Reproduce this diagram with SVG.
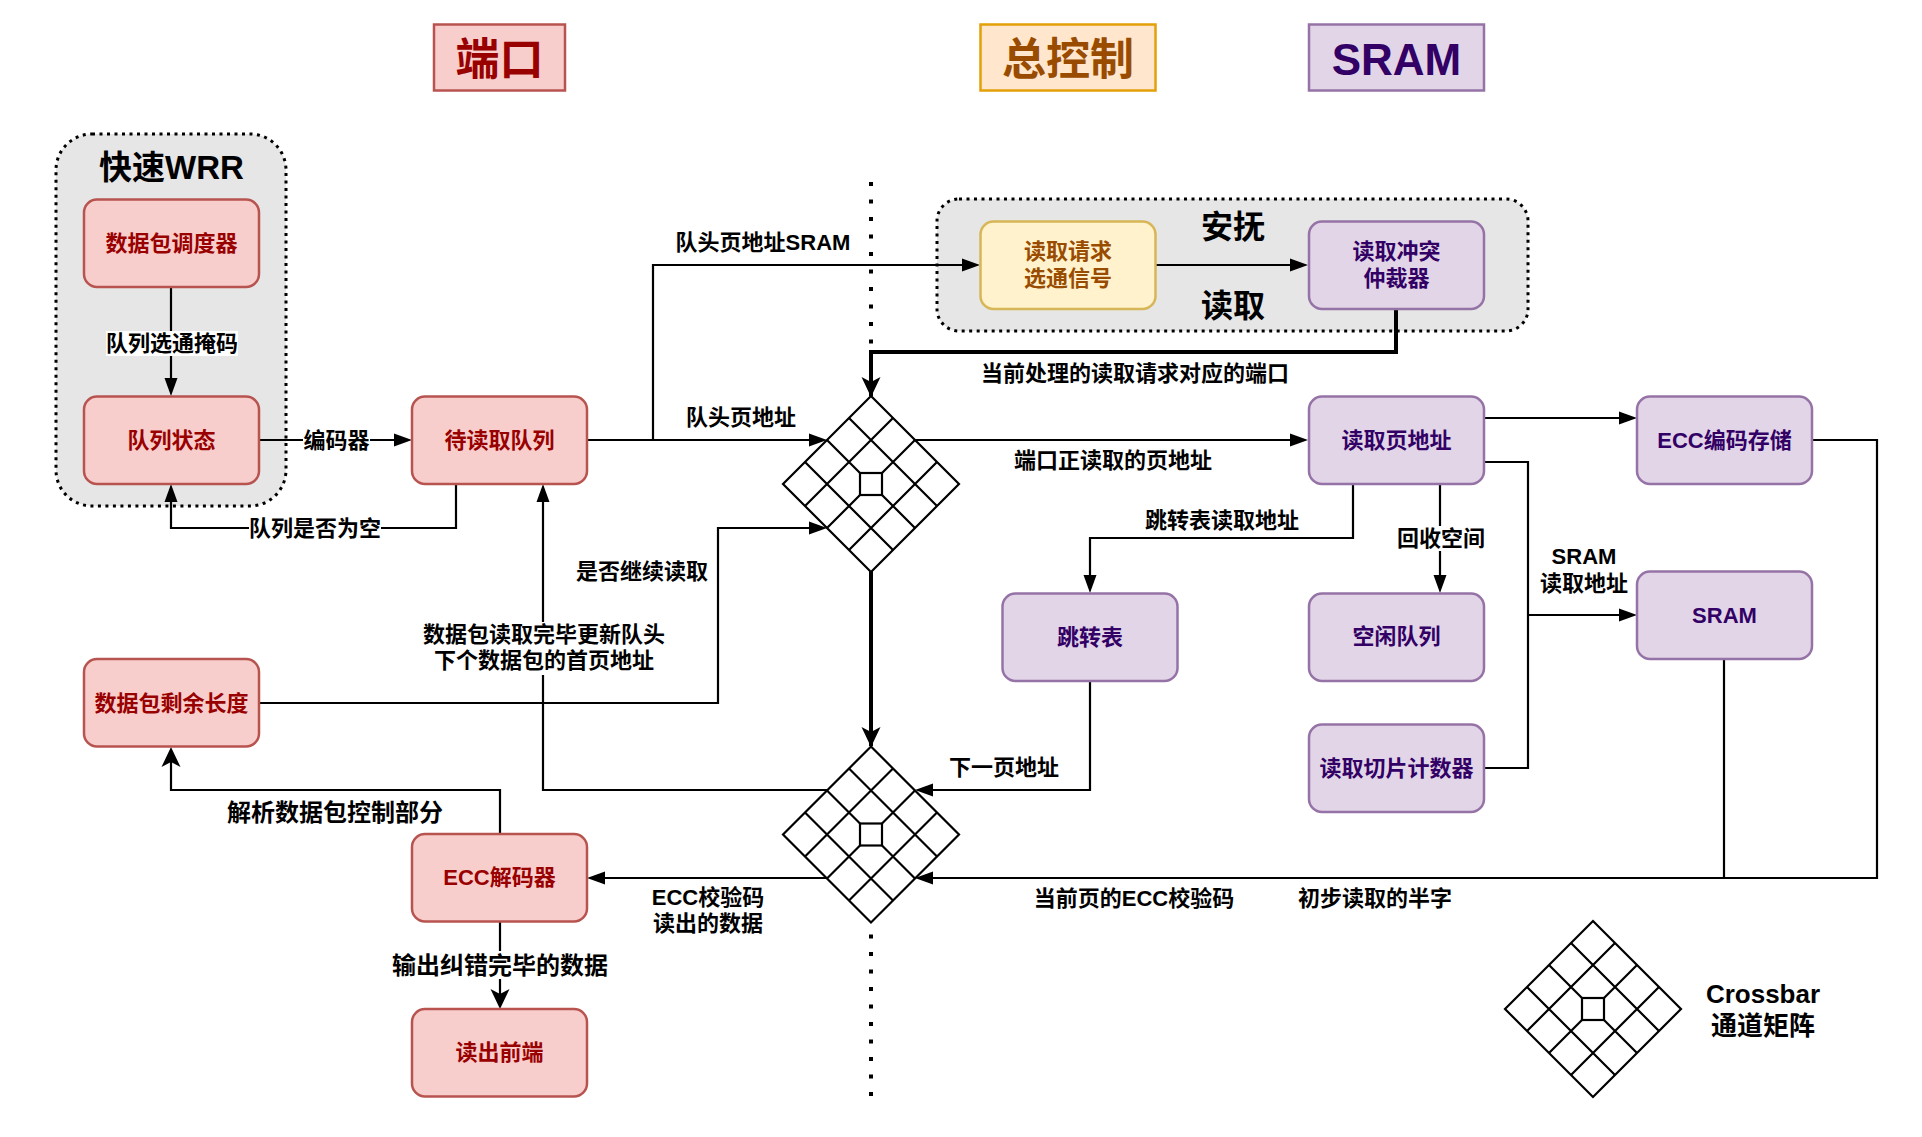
<svg xmlns="http://www.w3.org/2000/svg" width="1922" height="1137" viewBox="0 0 1922 1137">
<style>
text{font-family:"Liberation Sans","Noto Sans CJK SC",sans-serif;font-weight:700;text-anchor:middle;dominant-baseline:central;font-size:22px;fill:#000}
.red rect{fill:#f8cecc;stroke:#b85450}.red text{fill:#990000}
.pur rect{fill:#e1d5e7;stroke:#9673a6}.pur text{fill:#330066}
.yel rect{fill:#fff2cc;stroke:#d6b656}.yel text{fill:#994c00}
.ora rect{fill:#ffe6cc;stroke:#e3a008}.ora text{fill:#994c00}
.t rect{stroke-width:2.5}.t text{font-size:44px}
.node rect{stroke-width:2.5}
.grp{fill:#e6e6e6;stroke:#000;stroke-width:3;stroke-dasharray:3 4.5}
.c path{fill:none;stroke:#000;stroke-width:2.2}
.c .thick{stroke-width:4}
.bg{fill:#fff}
.xb{fill:none;stroke:#000;stroke-width:2.2}
.xf{fill:#fff;stroke:#000;stroke-width:2.2}
</style>
<defs>
<marker id="b" markerUnits="userSpaceOnUse" markerWidth="18" markerHeight="14" refX="12" refY="7" orient="auto"><path d="M0 .5L18 7L0 13.5z" fill="#000"/></marker>
<marker id="k" markerUnits="userSpaceOnUse" markerWidth="20" markerHeight="20" refX="14" refY="10" orient="auto"><path d="M0 .5L20 10L0 19.5L5 10z" fill="#000"/></marker>
<g id="xbar">
<path class="xf" d="M0-88L88 0L0 88L-88 0z"/>
<path class="xb" d="M-22-66L66 22M-66-22L22 66M22-66L-66 22M66-22L-22 66M-44-44L-11-11M44-44L11-11M-44 44L-11 11M44 44L11 11"/>
<rect class="xb" x="-11" y="-11" width="22" height="22"/>
</g>
</defs>

<path d="M871 182V1097" fill="none" stroke="#000" stroke-width="4" stroke-dasharray="4 13.5"/>

<g id="group-wrr"><rect class="grp" x="56" y="134" width="230" height="372" rx="36"/><text x="171.500" y="167" style="font-size:33px">快速WRR</text></g>
<g id="group-arb"><rect class="grp" x="937" y="199" width="591" height="132" rx="22"/><text x="1233" y="227" style="font-size:32px">安抚</text><text x="1233" y="306" style="font-size:32px">读取</text></g>

<g id="title-port" class="t red"><rect x="434" y="24.500" width="131" height="66"/><text x="499.500" y="59">端口</text></g>
<g id="title-ctrl" class="t ora"><rect x="980.500" y="24.500" width="175" height="66"/><text x="1068" y="59">总控制</text></g>
<g id="title-sram" class="t pur"><rect x="1309" y="24.500" width="175" height="66"/><text x="1396.500" y="59">SRAM</text></g>

<g id="connectors" class="c">
<path d="M171 287V390" marker-end="url(#b)"/>
<path d="M259 440H406" marker-end="url(#b)"/>
<path d="M456 484V528H171V490" marker-end="url(#b)"/>
<path d="M587 440H821" marker-end="url(#b)"/>
<path d="M653 440V265H974" marker-end="url(#b)"/>
<path d="M1156 265H1302" marker-end="url(#b)"/>
<path class="thick" d="M1396 309V352H871V391" marker-end="url(#k)"/>
<path d="M915 440H1302" marker-end="url(#b)"/>
<path class="thick" d="M871 570V741" marker-end="url(#k)"/>
<path d="M259 703H718V528H821" marker-end="url(#b)"/>
<path d="M827 790H543V490" marker-end="url(#b)"/>
<path d="M827 878H593" marker-end="url(#b)"/>
<path d="M500 834V790H171V753" marker-end="url(#k)"/>
<path d="M500 922V1003" marker-end="url(#k)"/>
<path d="M1090 681V790H921" marker-end="url(#b)"/>
<path d="M1353 484V538H1090V587" marker-end="url(#b)"/>
<path d="M1440 484V587" marker-end="url(#b)"/>
<path d="M1484 418H1631" marker-end="url(#b)"/>
<path d="M1484 462H1528V768H1484"/>
<path d="M1528 615H1631" marker-end="url(#b)"/>
<path d="M1812 440H1877V878H921" marker-end="url(#b)"/>
<path d="M1724 659V878"/>

<rect class="bg" x="106" y="331" width="132" height="25"/><text x="172" y="343">队列选通掩码</text>
<rect class="bg" x="303" y="428" width="67" height="25"/><text x="336.500" y="440">编码器</text>
<rect class="bg" x="249" y="516" width="132" height="25"/><text x="315" y="528">队列是否为空</text>
<text x="741" y="417">队头页地址</text>
<text x="763" y="242">队头页地址SRAM</text>
<text x="1135" y="373">当前处理的读取请求对应的端口</text>
<text x="1113" y="460">端口正读取的页地址</text>
<text x="642" y="571">是否继续读取</text>
<rect class="bg" x="424" y="622" width="240" height="53"/><text x="544" y="634">数据包读取完毕更新队头</text><text x="544" y="660">下个数据包的首页地址</text>
<text x="708" y="897">ECC校验码</text><text x="708" y="923">读出的数据</text>
<text x="335" y="812" style="font-size:24px">解析数据包控制部分</text>
<rect class="bg" x="391" y="951" width="218" height="28"/><text x="500" y="965" style="font-size:24px">输出纠错完毕的数据</text>
<text x="1004" y="767">下一页地址</text>
<text x="1222" y="520">跳转表读取地址</text>
<rect class="bg" x="1398" y="526" width="88" height="25"/><text x="1441" y="538">回收空间</text>
<text x="1584" y="556">SRAM</text><text x="1584" y="583">读取地址</text>
<text x="1134" y="898">当前页的ECC校验码</text>
<text x="1375" y="898">初步读取的半字</text>
</g>

<g id="n-sched" class="node red"><rect x="84" y="199.500" width="175" height="87.500" rx="13"/><text x="171.500" y="243">数据包调度器</text></g>
<g id="n-qstate" class="node red"><rect x="84" y="396.500" width="175" height="87.500" rx="13"/><text x="171.500" y="440">队列状态</text></g>
<g id="n-pending" class="node red"><rect x="412" y="396.500" width="175" height="87.500" rx="13"/><text x="499.500" y="440">待读取队列</text></g>
<g id="n-remain" class="node red"><rect x="84" y="659" width="175" height="87.500" rx="13"/><text x="171.500" y="703">数据包剩余长度</text></g>
<g id="n-eccdec" class="node red"><rect x="412" y="834" width="175" height="87.500" rx="13"/><text x="499.500" y="877">ECC解码器</text></g>
<g id="n-front" class="node red"><rect x="412" y="1009" width="175" height="87.500" rx="13"/><text x="499.500" y="1052">读出前端</text></g>
<g id="n-req" class="node yel"><rect x="980.500" y="221.500" width="175" height="87.500" rx="13"/><text x="1068" y="251">读取请求</text><text x="1068" y="278">选通信号</text></g>
<g id="n-arb" class="node pur"><rect x="1309" y="221.500" width="175" height="87.500" rx="13"/><text x="1396.500" y="251">读取冲突</text><text x="1396.500" y="278">仲裁器</text></g>
<g id="n-page" class="node pur"><rect x="1309" y="396.500" width="175" height="87.500" rx="13"/><text x="1396.500" y="440">读取页地址</text></g>
<g id="n-eccenc" class="node pur"><rect x="1637" y="396.500" width="175" height="87.500" rx="13"/><text x="1724.500" y="440">ECC编码存储</text></g>
<g id="n-sram" class="node pur"><rect x="1637" y="571.500" width="175" height="87.500" rx="13"/><text x="1724.500" y="615">SRAM</text></g>
<g id="n-jump" class="node pur"><rect x="1002.500" y="593.500" width="175" height="87.500" rx="13"/><text x="1090" y="637">跳转表</text></g>
<g id="n-free" class="node pur"><rect x="1309" y="593.500" width="175" height="87.500" rx="13"/><text x="1396.500" y="636">空闲队列</text></g>
<g id="n-slice" class="node pur"><rect x="1309" y="724.500" width="175" height="87.500" rx="13"/><text x="1396.500" y="768">读取切片计数器</text></g>

<g id="xbar-1"><use href="#xbar" x="871" y="484"/></g>
<g id="xbar-2"><use href="#xbar" x="871" y="834.500"/></g>
<g id="xbar-legend"><use href="#xbar" x="1593" y="1009"/><text x="1763" y="994" style="font-size:26px">Crossbar</text><text x="1763" y="1026" style="font-size:26px">通道矩阵</text></g>
</svg>
